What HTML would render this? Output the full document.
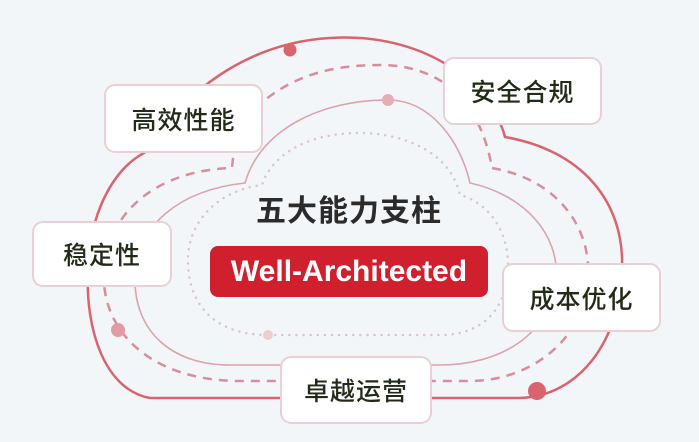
<!DOCTYPE html>
<html><head><meta charset="utf-8"><style>
html,body{margin:0;padding:0;}
body{width:699px;height:442px;background:#f3f6f9;position:relative;overflow:hidden;font-family:"Liberation Sans","Noto Sans CJK SC",sans-serif;}
svg{position:absolute;left:0;top:0;}
.b{position:absolute;background:#fff;border:2px solid #ead0d4;border-radius:11px;box-sizing:border-box;display:flex;align-items:center;justify-content:center;font-size:25px;color:#222a18;letter-spacing:1px;font-weight:500;}
</style></head><body>
<svg width="699" height="442">
<path d="M505,137 C580,150 625,200 622,270 C620,340 580,396 520,398 L150,398 C105,390 85,330 88,270 C90,210 115,165 150,150 C190,80 260,42 330,38 C420,32 490,80 505,137 Z" fill="none" stroke="#d9646e" stroke-width="2.5"/>
<path d="M492,168 C560,180 592,230 588,280 C584,340 530,381 470,381 L240,381 C150,381 100,330 104,270 C108,210 160,170 232,168 C235,130 250,110 265,100 C300,72 340,65 380,65 C440,65 480,100 492,168 Z" fill="none" stroke="#d98d9a" stroke-width="2.5" stroke-dasharray="9 7"/>
<path d="M470,183 C525,195 560,235 556,280 C550,335 500,365 440,365 L230,365 C170,365 135,330 135,280 C135,225 180,190 245,183 C260,130 320,100 388,100 C430,100 460,140 470,183 Z" fill="none" stroke="#dba3ab" stroke-width="1.6"/>
<path d="M268,335 L440,335 C490,335 510,300 508,260 C505,220 480,200 460,195 C450,150 400,133 360,133 C300,133 270,160 262,185 C220,190 188,220 188,260 C188,310 220,335 268,335 Z" fill="none" stroke="#d8c6cb" stroke-width="2.5" stroke-dasharray="0.1 7" stroke-linecap="round"/>
<circle cx="290" cy="50" r="6.5" fill="#d9646e"/>
<circle cx="388" cy="100" r="6" fill="#e6adb5"/>
<circle cx="118" cy="330" r="7" fill="#e29aa4"/>
<circle cx="268" cy="335" r="5" fill="#ebcdd2"/>
<circle cx="537" cy="391" r="9" fill="#d9646e"/>
</svg>
<div class="b" style="left:104px;top:84px;width:159px;height:69px;">高效性能</div>
<div class="b" style="left:443px;top:57px;width:159px;height:68px;">安全合规</div>
<div class="b" style="left:32px;top:221px;width:140px;height:66px;">稳定性</div>
<div class="b" style="left:502px;top:263px;width:159px;height:69px;">成本优化</div>
<div class="b" style="left:280px;top:356px;width:152px;height:68px;">卓越运营</div>
<div style="position:absolute;left:230px;top:194px;width:238px;text-align:center;font-size:30px;line-height:36px;font-weight:bold;color:#2b2b2b;letter-spacing:1px;">五大能力支柱</div>
<div style="position:absolute;left:210px;top:246px;width:278px;height:51px;background:#d0202e;border-radius:8px;color:#fff;font-size:30px;font-weight:bold;display:flex;align-items:center;justify-content:center;">Well-Architected</div>
</body></html>
